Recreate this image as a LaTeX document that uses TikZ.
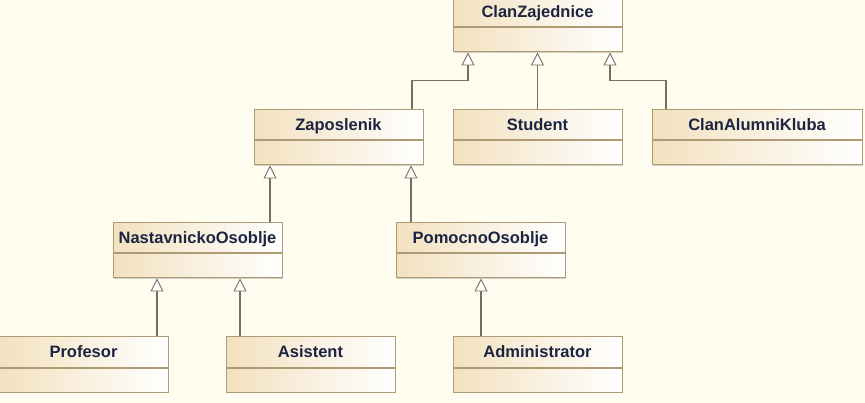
\documentclass[tikz,border=0pt]{standalone}
\usepackage{fontspec}
\setmainfont{Liberation Sans}
\usetikzlibrary{arrows.meta,shadows}

\definecolor{bgCream}{HTML}{FFFDF0}
\definecolor{boxTan}{HTML}{F3E1BF}
\definecolor{boxEdge}{HTML}{AE9A74}
\definecolor{lineGray}{HTML}{766E5F}
\definecolor{textNavy}{HTML}{1B2440}

\begin{document}
\begin{tikzpicture}[x=1pt,y=-1pt]
% y is flipped so that positions read like pixel positions

% style
\tikzset{
    every node/.style={font=\bfseries\fontsize{16.5}{18}\selectfont, text=textNavy},
    classHead/.style={draw=boxEdge, line width=1pt, left color=boxTan, right color=white,
        minimum height=30pt, inner sep=0pt, text height=11.8pt, text depth=0pt,
        drop shadow={shadow xshift=1pt, shadow yshift=-1pt, fill=black, opacity=0.18}},
    classBody/.style={classHead, minimum height=24pt},
    genLine/.style={draw=lineGray, line width=1.5pt,
        -{Triangle[fill=white, length=13pt, width=13pt, line width=0.9pt]}}
}

% background
\useasboundingbox (0,0) rectangle (865,403);
\fill[bgCream] (0,0) rectangle (865,403);

% classes
\foreach \nm/\cx/\cy/\bw/\txt in {
    clan/537.5/12/169/ClanZajednice,
    zap/338.5/125/169/Zaposlenik,
    student/537.5/125/169/Student,
    alumni/757/125/210/ClanAlumniKluba,
    nast/197.5/238/169/NastavnickoOsoblje,
    pom/480.5/238/169/PomocnoOsoblje,
    prof/83.5/352/169/Profesor,
    asis/310.5/352/169/Asistent,
    admin/537.5/352/169/Administrator
} {
    \node[classHead, minimum width=\bw pt] (\nm Head) at (\cx,\cy) {\txt};
    \node[classBody, minimum width=\bw pt, anchor=north] (\nm Body) at (\nm Head.south) {};
}

% generalizations
\draw[genLine] ([xshift=73.5]zapHead.north) -- ++(0,-29) -| ([xshift=-69.5]clanBody.south);
\draw[genLine] (studentHead.north) -- (clanBody.south);
\draw[genLine] ([xshift=-91]alumniHead.north) -- ++(0,-29) -| ([xshift=72.5]clanBody.south);
\draw[genLine] ([xshift=72.5]nastHead.north) -- ([xshift=-68.5]zapBody.south);
\draw[genLine] ([xshift=-69.5]pomHead.north) -- ([xshift=72.5]zapBody.south);
\draw[genLine] ([xshift=73.5]profHead.north) -- ([xshift=-40.5]nastBody.south);
\draw[genLine] ([xshift=-70.5]asisHead.north) -- ([xshift=42.5]nastBody.south);
\draw[genLine] ([xshift=-56.5]adminHead.north) -- ([xshift=0.5]pomBody.south);

\end{tikzpicture}
\end{document}
